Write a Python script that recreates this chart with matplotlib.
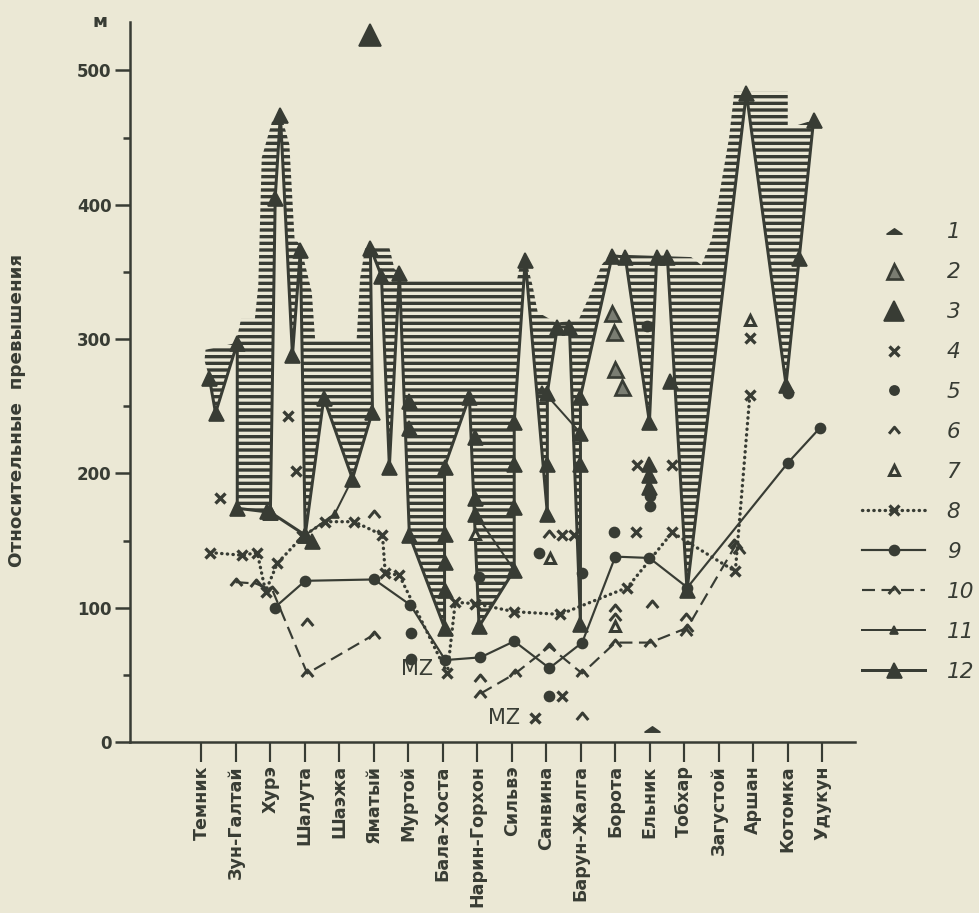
import matplotlib
matplotlib.use("Agg")
import matplotlib.pyplot as plt
from matplotlib.path import Path
from matplotlib.lines import Line2D

INK = "#383c34"
PAPER = "#ebe8d5"

# stations along the profile (tick positions 2..20)
stations = ["Темник", "Зун-Галтай", "Хурэ", "Шалута", "Шаэжа", "Яматый", "Муртой",
            "Бала-Хоста", "Нарин-Горхон", "Сильвэ", "Санвина", "Барун-Жалга",
            "Борота", "Ельник", "Тобхар", "Загустой", "Аршан", "Котомка", "Удукун"]
station_pos = list(range(2, 21))

# upper boundary of the hatched band
env_x = [2.09, 2.12, 3.00, 3.15, 3.55, 3.65, 3.75, 4.05, 4.29, 4.55, 4.70, 4.87, 5.20, 5.30,
         6.50, 6.60, 6.75, 7.45, 7.60, 7.75, 7.90, 11.15, 11.25, 11.39, 11.60, 11.75, 12.30,
         12.95, 13.30, 13.60, 13.85, 16.20, 16.50, 16.80, 17.10, 17.30, 17.45, 19.00, 19.00, 19.75]
env_v = [284, 292, 297, 315, 315, 340, 435, 462, 469, 445, 375, 370, 335, 299,
         299, 345, 368, 368, 352, 350, 344, 344, 357, 361, 340, 320, 312,
         315, 335, 355, 363, 361, 355, 375, 420, 450, 484, 484, 457, 463]

# line 12 (main zigzag, lower boundary of the band)
l12_x = [2.23, 2.41, 3.04, 3.04, 4.00, 4.14, 4.29, 4.64, 4.87, 5.01, 5.55, 6.38, 6.96, 6.90,
         7.22, 7.45, 7.74, 8.03, 9.05, 9.05, 9.77, 10.05, 11.07, 11.07, 11.39, 12.03, 12.03,
         12.32, 12.67, 12.99, 12.99, 13.91, 14.29, 14.99, 15.20, 15.51, 16.08, 17.80, 18.95, 19.75]
l12_v = [271, 245, 297, 174, 171, 405, 467, 288, 366, 154, 256, 196, 246, 368,
         347, 205, 349, 154, 85, 205, 257, 86, 128, 238, 359, 170, 260,
         309, 309, 88, 257, 362, 361, 238, 361, 361, 113, 483, 266, 463]
l12b_x = [4.00, 5.01]
l12b_v = [171, 154]
ex12_x = [9.94, 9.94, 9.94, 9.07, 9.07, 9.07, 11.07, 11.07, 14.99, 14.99, 14.99, 12.03,
          12.99, 12.99, 15.60, 8.03, 8.03, 19.33, 5.20, 3.90]
ex12_v = [227, 182, 170, 155, 134, 113, 207, 175, 207, 199, 190, 207,
          230, 207, 269, 254, 234, 360, 150, 172]

# line 11 pieces
l11a_x, l11a_v = [5.01, 5.87, 6.38], [154, 170, 196]
l11b_x, l11b_v = [9.94, 11.07], [170, 128]
l11c_x, l11c_v = [11.88, 12.99], [262, 230]

# line 10 (dashed)
l10a_x = [2.99, 3.57, 4.06, 5.07, 7.01]
l10a_v = [119, 118, 113, 51, 80]
l10b_x = [10.09, 11.10, 12.09, 13.04, 14.00, 15.01, 16.09, 17.50]
l10b_v = [36, 51, 71, 51, 74, 74, 85, 147]

# line 9 (solid with dots)
l9_x = [4.12, 5.01, 7.01, 8.06, 9.07, 10.09, 11.07, 12.09, 13.04, 14.00, 14.99, 16.09, 19.01, 19.94]
l9_v = [100, 120, 121, 102, 61, 63, 75, 55, 74, 138, 137, 115, 208, 234]

# line 8 (dotted with crosses)
l8_x = [2.26, 3.19, 3.62, 3.86, 4.20, 4.93, 5.59, 6.43, 7.25, 7.33, 7.74, 9.13, 9.36,
        9.94, 11.07, 12.40, 14.35, 15.65, 17.48, 17.90]
l8_v = [141, 139, 141, 112, 133, 153, 164, 164, 154, 126, 124, 51, 104,
        103, 97, 95, 115, 156, 127, 258]

# single signs 1-7
p1_x, p1_v = [15.07], [10]
p2_x, p2_v = [13.91, 13.95, 14.20, 14.00], [319, 305, 264, 278]
p3_x, p3_v = [6.90], [526]
p4_x = [2.55, 4.50, 4.75, 12.45, 12.80, 14.60, 12.46, 11.68, 17.90, 14.64, 15.65]
p4_v = [182, 243, 202, 154, 154, 156, 34, 18, 301, 206, 206]
p5_x = [8.07, 8.07, 12.09, 13.97, 11.80, 14.93, 19.00, 10.06, 13.04, 15.00, 15.00]
p5_v = [81, 62, 34, 156, 141, 310, 260, 123, 126, 176, 183]
p6_x = [6.99, 5.07, 10.09, 13.04, 14.00, 14.00, 15.07, 16.05, 16.05, 12.09, 17.45, 17.60]
p6_v = [170, 89, 48, 19, 100, 93, 103, 93, 82, 155, 148, 143]
p7_x, p7_v = [12.12, 14.00, 17.90, 9.94], [137, 86, 314, 155]

mz_x, mz_v = [8.26, 10.78], [54, 18]

plt.rcParams["font.family"] = ["DejaVu Sans"]
plt.rcParams["hatch.color"] = INK
plt.rcParams["hatch.linewidth"] = 2.0

caret = Path([(-1, -0.6), (0, 0.6), (1, -0.6)], [Path.MOVETO, Path.LINETO, Path.LINETO])
flat_tri = Path([(-1, -0.35), (0, 0.35), (1, -0.35), (-1, -0.35)],
                [Path.MOVETO, Path.LINETO, Path.LINETO, Path.CLOSEPOLY])

DPI = 120
fig = plt.figure(figsize=(980 / DPI, 913 / DPI), dpi=DPI, facecolor=PAPER)
ax = fig.add_axes([130 / 980, 171 / 913, 725 / 980, 720 / 913])
ax.set_facecolor(PAPER)
ax.set_xlim(-0.07, 20.95)
ax.set_ylim(0, 536)

# hatched band between the envelope and line 12
ax.fill(env_x + l12_x[::-1], env_v + l12_v[::-1], facecolor="none",
        edgecolor=INK, hatch="---", linewidth=0, zorder=1)

big = dict(color=INK, marker="^", ms=9, lw=1.8, zorder=4)
ax.plot(l12_x, l12_v, **big)
ax.plot(l12b_x, l12b_v, **big)
ax.plot(ex12_x, ex12_v, ls="none", color=INK, marker="^", ms=9, zorder=4)

small = dict(color=INK, marker="^", ms=5, lw=1.2, zorder=4)
for xs, vs in [(l11a_x, l11a_v), (l11b_x, l11b_v), (l11c_x, l11c_v)]:
    ax.plot(xs, vs, **small)

dash = dict(color=INK, lw=1.3, ls=(0, (6, 3)), marker=caret, ms=7, mfc="none",
            mec=INK, mew=1.8, zorder=4)
ax.plot(l10a_x, l10a_v, **dash)
ax.plot(l10b_x, l10b_v, **dash)

ax.plot(l9_x, l9_v, color=INK, lw=1.3, marker="o", ms=6, zorder=4)

ax.plot(l8_x, l8_v, color=INK, lw=2.0, ls=(0, (0.1, 1.6)), dash_capstyle="round",
        marker="x", ms=6.5, mew=2.0, zorder=4)

ax.plot(p1_x, p1_v, ls="none", marker=flat_tri, ms=9, color=INK, zorder=5)
ax.plot(p2_x, p2_v, ls="none", marker="^", ms=9, mfc="#7a7d72", mec=INK, mew=1.6, zorder=5)
ax.plot(p3_x, p3_v, ls="none", marker="^", ms=13, color=INK, zorder=5)
ax.plot(p4_x, p4_v, ls="none", marker="x", ms=6, mew=2.0, color=INK, zorder=5)
ax.plot(p5_x, p5_v, ls="none", marker="o", ms=6, color=INK, zorder=5)
ax.plot(p6_x, p6_v, ls="none", marker=caret, ms=7, mfc="none", mec=INK, mew=1.8, zorder=5)
ax.plot(p7_x, p7_v, ls="none", marker="^", ms=6.5, mfc=PAPER, mec=INK, mew=1.8, zorder=5)

for x, v in zip(mz_x, mz_v):
    ax.text(x, v, "MZ", fontsize=12.5, color=INK, ha="center", va="center", zorder=6)

# axes styling
for side in ("top", "right"):
    ax.spines[side].set_visible(False)
for side in ("left", "bottom"):
    ax.spines[side].set_color(INK)
    ax.spines[side].set_linewidth(1.5)

ax.set_yticks(range(0, 501, 100))
ax.set_yticks(range(50, 500, 100), minor=True)
ax.tick_params(axis="y", which="major", length=9, width=1.5, color=INK, pad=2,
               labelsize=10, labelcolor=INK)
ax.tick_params(axis="y", which="minor", length=4, width=1.5, color=INK)
for lab in ax.get_yticklabels():
    lab.set_fontweight("bold")

ax.set_xticks(station_pos)
ax.set_xticklabels(stations, rotation=90, fontsize=10.5, fontweight="bold", color=INK)
ax.tick_params(axis="x", length=12, width=1.3, color=INK, pad=2)

ax.set_ylabel("Относительные  превышения", fontsize=11, fontweight="bold", color=INK)
ax.yaxis.set_label_coords(-0.143, 0.46)
ax.text(-0.041, 1.0, "м", transform=ax.transAxes, ha="center", va="center",
        fontsize=11, fontweight="bold", color=INK)

# legend
handles = [
    Line2D([], [], ls="none", marker=flat_tri, ms=9, color=INK),
    Line2D([], [], ls="none", marker="^", ms=9, mfc="#7a7d72", mec=INK, mew=1.6),
    Line2D([], [], ls="none", marker="^", ms=12, color=INK),
    Line2D([], [], ls="none", marker="x", ms=5.5, mew=2.0, color=INK),
    Line2D([], [], ls="none", marker="o", ms=5.5, color=INK),
    Line2D([], [], ls="none", marker=caret, ms=6.5, mfc="none", mec=INK, mew=1.8),
    Line2D([], [], ls="none", marker="^", ms=6.5, mfc=PAPER, mec=INK, mew=1.8),
    Line2D([], [], color=INK, lw=2.0, ls=(0, (0.1, 1.6)), dash_capstyle="round",
           marker="x", ms=6, mew=2.0),
    Line2D([], [], color=INK, lw=1.3, marker="o", ms=6),
    Line2D([], [], color=INK, lw=1.3, ls=(0, (6, 3)), marker=caret, ms=7, mfc="none",
           mec=INK, mew=1.8),
    Line2D([], [], color=INK, lw=1.2, marker="^", ms=5),
    Line2D([], [], color=INK, lw=1.8, marker="^", ms=9),
]
labels = [str(i) for i in range(1, 13)]
leg = fig.legend(handles, labels, loc="upper left", bbox_to_anchor=(0.871, 0.766),
                 borderaxespad=0, frameon=False, handlelength=2.9, handletextpad=1.0,
                 labelspacing=0.92, prop=dict(size=13, style="italic"), labelcolor=INK)

fig.savefig("out.png", dpi=DPI, facecolor=PAPER)
